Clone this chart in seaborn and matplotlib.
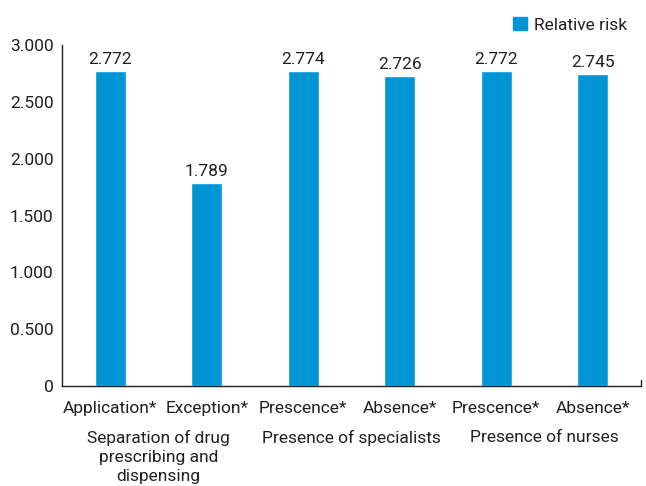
import numpy as np
import pandas as pd
import matplotlib.pyplot as plt
import seaborn as sns
from matplotlib.patches import Patch

categories = ["Application*", "Exception*", "Prescence*", "Absence*", "Prescence*", "Absence*"]
relative_risk = [2.772, 1.789, 2.774, 2.726, 2.772, 2.745]
value_labels = ["2.772", "1.789", "2.774", "2.726", "2.772", "2.745"]
groups = ["Separation of drug\nprescribing and\ndispensing", "Presence of specialists", "Presence of nurses"]
yticks = [0, 0.5, 1.0, 1.5, 2.0, 2.5, 3.0]
ytick_labels = ["0", "0.500", "1.000", "1.500", "2.000", "2.500", "3.000"]

BLUE = "#0096D6"
INK = "#231F20"
FS = 12.5

sns.set_style("white")
plt.rcParams["font.family"] = ["Roboto", "DejaVu Sans"]
plt.rcParams["text.color"] = INK

df = pd.DataFrame({"pos": np.arange(len(categories)), "value": relative_risk})

fig = plt.figure(figsize=(6.46, 4.86), dpi=100)
ax = fig.add_axes([62 / 646, 100 / 486, 579 / 646, 341 / 486])
sns.barplot(data=df, x="pos", y="value", color=BLUE, width=0.32, saturation=1, ax=ax)

ax.set_xlim(-0.5, len(categories) - 0.5)
ax.set_ylim(0, 3.0)
ax.set_yticks(yticks)
ax.set_yticklabels(ytick_labels, fontsize=FS, color=INK)
ax.set_xticks(range(len(categories)))
ax.set_xticklabels(categories, fontsize=FS, color=INK)
ax.tick_params(axis="x", length=0, pad=11)
ax.tick_params(axis="y", length=5, width=1, color=INK, direction="out", pad=1)
ax.set_xlabel("")
ax.set_ylabel("")

for s in ["top", "right"]:
    ax.spines[s].set_visible(False)
for s in ["left", "bottom"]:
    ax.spines[s].set_color(INK)
    ax.spines[s].set_linewidth(1)

for i, (v, t) in enumerate(zip(relative_risk, value_labels)):
    ax.text(i, v + 0.035, t, ha="center", va="bottom", fontsize=FS, color=INK)

# group labels under the pairs
for g, label in enumerate(groups):
    ax.text(2 * g + 0.5, -0.385, label, ha="center", va="top", fontsize=FS,
            color=INK, linespacing=1.35)

# small end tick on the x-axis
ax.plot([len(categories) - 0.5] * 2, [0, 0.05], color=INK, lw=1, clip_on=False)

fig.legend(handles=[Patch(color=BLUE, label="Relative risk")], loc="upper right",
           bbox_to_anchor=(0.99, 0.99), frameon=False,
           fontsize=FS, handlelength=0.8, handleheight=0.8, handletextpad=0.4,
           borderaxespad=0.3)

fig.savefig("out.png", dpi=100)
